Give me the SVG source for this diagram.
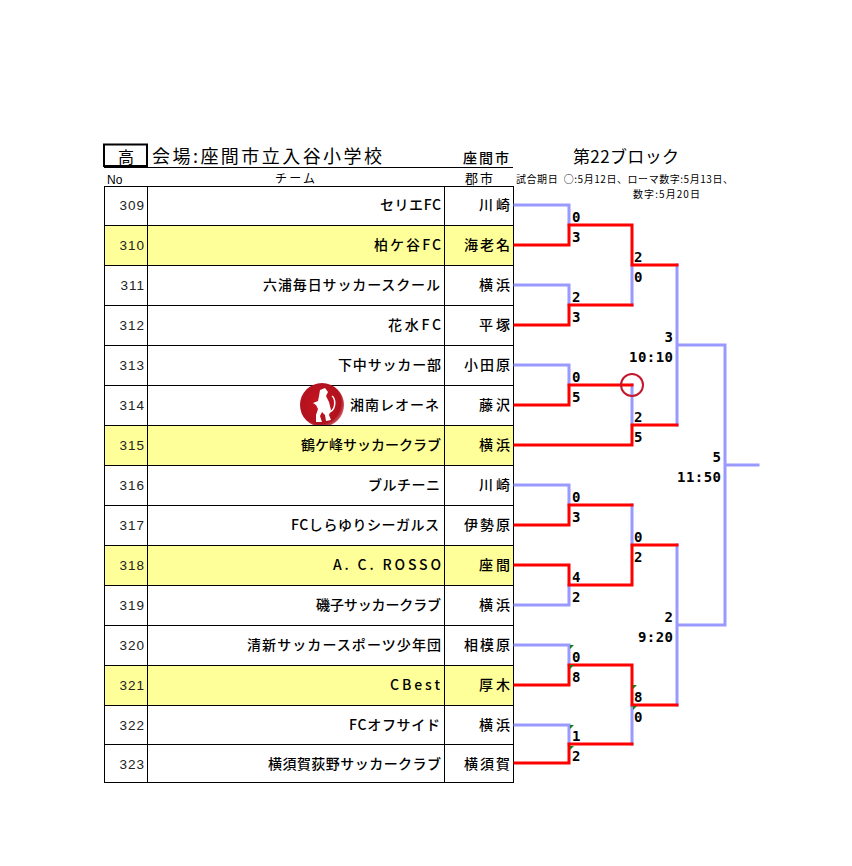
<svg xmlns="http://www.w3.org/2000/svg" width="852" height="866" viewBox="0 0 852 866">
<style>
text{font-family:"Noto Sans CJK JP","DejaVu Sans",sans-serif;fill:#000}
.no{font-family:"Liberation Sans",sans-serif;font-size:13.5px;text-anchor:end;letter-spacing:1px;fill:#222}
.team,.city{font-size:14px;font-weight:500;text-anchor:end}
.s{font-family:"DejaVu Sans Mono",monospace;font-size:14px;font-weight:700}
.e{text-anchor:end}
.cell{fill:none;stroke:#000;stroke-width:1}
.y{fill:#ffff99}
.b,.r{fill:none;stroke-width:3;stroke-linecap:square;stroke-linejoin:miter}
.b{stroke:#9999ff}
.r{stroke:#ff0000}
.g{fill:#108010}
</style>
<defs><radialGradient id="logo" cx="0.45" cy="0.45" r="0.6"><stop offset="0" stop-color="#c8141f"/><stop offset="0.8" stop-color="#b0121e"/><stop offset="1" stop-color="#d87a80"/></radialGradient></defs>
<rect width="852" height="866" fill="#fff"/>
<g id="header">
<rect x="104" y="144.500" width="43" height="21.500" fill="none" stroke="#000" stroke-width="2"/>
<text x="126" y="163" font-size="16" text-anchor="middle">高</text>
<text x="152" y="163" font-size="18" textLength="230" lengthAdjust="spacing">会場:座間市立入谷小学校</text>
<text x="463" y="163" font-size="14" font-weight="500" textLength="46">座間市</text>
<path d="M104 167.500H513" stroke="#000" stroke-width="1"/>
<text x="573" y="163" font-size="17" textLength="106">第22ブロック</text>
<text x="107" y="184" style="font-family:'Liberation Sans',sans-serif;font-size:12px">No</text>
<text x="295" y="183" font-size="12" text-anchor="middle" textLength="40">チーム</text>
<text x="465" y="183" font-size="13" textLength="28">郡市</text>
<text x="516" y="183" font-size="10" textLength="217">試合期日&#160;&#160;○:5月12日、ローマ数字:5月13日、</text>
<text x="633" y="198" font-size="10" textLength="67">数字:5月20日</text>
</g>
<g id="n309"><rect class="cell" x="104.500" y="186.500" width="409" height="39"/><path class="cell" d="M147.500 186V225M444.500 186V225"/><text class="no" x="145" y="210">309</text><text class="team" x="441" y="210" textLength="61">セリエFC</text><text class="city" x="510" y="210" textLength="31">川崎</text></g>
<g id="n310"><rect class="cell y" x="104.500" y="225.500" width="409" height="40"/><path class="cell" d="M147.500 225V265M444.500 225V265"/><text class="no" x="145" y="250">310</text><text class="team" x="441" y="250" textLength="67">柏ケ谷FC</text><text class="city" x="510" y="250" textLength="46">海老名</text></g>
<g id="n311"><rect class="cell" x="104.500" y="265.500" width="409" height="40"/><path class="cell" d="M147.500 265V305M444.500 265V305"/><text class="no" x="145" y="290">311</text><text class="team" x="440" y="290" textLength="177">六浦毎日サッカースクール</text><text class="city" x="510" y="290" textLength="31">横浜</text></g>
<g id="n312"><rect class="cell" x="104.500" y="305.500" width="409" height="40"/><path class="cell" d="M147.500 305V345M444.500 305V345"/><text class="no" x="145" y="330">312</text><text class="team" x="441" y="330" textLength="53">花水FC</text><text class="city" x="510" y="330" textLength="31">平塚</text></g>
<g id="n313"><rect class="cell" x="104.500" y="345.500" width="409" height="40"/><path class="cell" d="M147.500 345V385M444.500 345V385"/><text class="no" x="145" y="370">313</text><text class="team" x="441" y="370" textLength="103">下中サッカー部</text><text class="city" x="510" y="370" textLength="46">小田原</text></g>
<g id="n314"><rect class="cell" x="104.500" y="385.500" width="409" height="40"/><path class="cell" d="M147.500 385V425M444.500 385V425"/><text class="no" x="145" y="410">314</text><text class="team" x="439" y="410" textLength="89">湘南レオーネ</text><text class="city" x="510" y="410" textLength="31">藤沢</text>
<circle cx="322" cy="405" r="22" fill="url(#logo)"/>
<path d="M320 390L325 388 328 392 326 396 329 402 331 410 329 415 331 420 326 421 325 415 322 412 320 416 322 422 316 422 316 415 318 409 316 405 313 403 318 401 319 396Z" fill="#fff"/>
<path d="M330 412C337 408 335 398 332 396" fill="none" stroke="#fff" stroke-width="1.500"/></g>
<g id="n315"><rect class="cell y" x="104.500" y="425.500" width="409" height="40"/><path class="cell" d="M147.500 425V465M444.500 425V465"/><text class="no" x="145" y="450">315</text><text class="team" x="441" y="450" textLength="140">鶴ケ峰サッカークラブ</text><text class="city" x="510" y="450" textLength="31">横浜</text></g>
<g id="n316"><rect class="cell" x="104.500" y="465.500" width="409" height="40"/><path class="cell" d="M147.500 465V505M444.500 465V505"/><text class="no" x="145" y="490">316</text><text class="team" x="440" y="490" textLength="72">ブルチーニ</text><text class="city" x="510" y="490" textLength="31">川崎</text></g>
<g id="n317"><rect class="cell" x="104.500" y="505.500" width="409" height="40"/><path class="cell" d="M147.500 505V545M444.500 505V545"/><text class="no" x="145" y="530">317</text><text class="team" x="439" y="530" textLength="148">FCしらゆりシーガルス</text><text class="city" x="510" y="530" textLength="46">伊勢原</text></g>
<g id="n318"><rect class="cell y" x="104.500" y="545.500" width="409" height="40"/><path class="cell" d="M147.500 545V585M444.500 545V585"/><text class="no" x="145" y="570">318</text><text class="team" x="441" y="570" textLength="108">A. C. ROSSO</text><text class="city" x="510" y="570" textLength="31">座間</text></g>
<g id="n319"><rect class="cell" x="104.500" y="585.500" width="409" height="40"/><path class="cell" d="M147.500 585V625M444.500 585V625"/><text class="no" x="145" y="610">319</text><text class="team" x="441" y="610" textLength="125">磯子サッカークラブ</text><text class="city" x="510" y="610" textLength="31">横浜</text></g>
<g id="n320"><rect class="cell" x="104.500" y="625.500" width="409" height="40"/><path class="cell" d="M147.500 625V665M444.500 625V665"/><text class="no" x="145" y="650">320</text><text class="team" x="441" y="650" textLength="194">清新サッカースポーツ少年団</text><text class="city" x="510" y="650" textLength="46">相模原</text></g>
<g id="n321"><rect class="cell y" x="104.500" y="665.500" width="409" height="40"/><path class="cell" d="M147.500 665V705M444.500 665V705"/><text class="no" x="145" y="690">321</text><text class="team" x="440" y="690" textLength="50">CBest</text><text class="city" x="510" y="690" textLength="31">厚木</text></g>
<g id="n322"><rect class="cell" x="104.500" y="705.500" width="409" height="39"/><path class="cell" d="M147.500 705V744M444.500 705V744"/><text class="no" x="145" y="730">322</text><text class="team" x="440" y="730" textLength="91">FCオフサイド</text><text class="city" x="510" y="730" textLength="31">横浜</text></g>
<g id="n323"><rect class="cell" x="104.500" y="744.500" width="409" height="38"/><path class="cell" d="M147.500 744V782M444.500 744V782"/><text class="no" x="145" y="769">323</text><text class="team" x="441" y="769" textLength="173">横須賀荻野サッカークラブ</text><text class="city" x="510" y="769" textLength="46">横須賀</text></g>
<g id="connectors">
<path class="b" d="M515 205H569V225M515 285H569V305M515 365H569V385M515 485H569V505M515 605H569V585M515 645H569V665M515 725H569V744"/>
<path class="b" d="M632 265V305M632 385V425M632 505V545M632 705V744"/>
<path class="b" d="M677 265V425M677 545V705M677 345H725M677 625H725M725 345V625M725 465H758"/>
<path class="r" d="M515 245H569V225H632V265H677"/>
<path class="r" d="M515 325H569V305H632"/>
<path class="r" d="M515 405H569V385H632"/>
<path class="r" d="M515 445H632V425H677"/>
<path class="r" d="M515 525H569V505H632"/>
<path class="r" d="M515 565H569V585H632V545H677"/>
<path class="r" d="M515 685H569V665H632V705H677"/>
<path class="r" d="M515 763H569V744H632"/>
<circle cx="632" cy="385" r="11" fill="none" stroke="#c4182c" stroke-width="2"/>
<path class="g" d="M570 645h4l-4 4zM570 665h4l-4 4zM633 685h4l-4 4zM633 706h4l-4 4zM570 725h4l-4 4zM570 746h4l-4 4z"/>
</g>
<g id="scores">
<text class="s" x="572" y="222">0</text><text class="s" x="572" y="242">3</text><text class="s" x="634" y="262">2</text><text class="s" x="634" y="282">0</text><text class="s" x="572" y="302">2</text><text class="s" x="572" y="322">3</text>
<text class="s e" x="673" y="342">3</text><text class="s e" x="673" y="362" textLength="44">10:10</text>
<text class="s" x="572" y="382">0</text><text class="s" x="572" y="402">5</text><text class="s" x="634" y="422">2</text><text class="s" x="634" y="442">5</text>
<text class="s e" x="721" y="462">5</text><text class="s e" x="721" y="482" textLength="44">11:50</text>
<text class="s" x="572" y="502">0</text><text class="s" x="572" y="522">3</text><text class="s" x="634" y="542">0</text><text class="s" x="634" y="562">2</text><text class="s" x="572" y="582">4</text><text class="s" x="572" y="602">2</text>
<text class="s e" x="673" y="622">2</text><text class="s e" x="673" y="642" textLength="35">9:20</text>
<text class="s" x="572" y="662">0</text><text class="s" x="572" y="682">8</text><text class="s" x="634" y="702">8</text><text class="s" x="634" y="722">0</text><text class="s" x="572" y="741">1</text><text class="s" x="572" y="761">2</text>
</g>
</svg>
